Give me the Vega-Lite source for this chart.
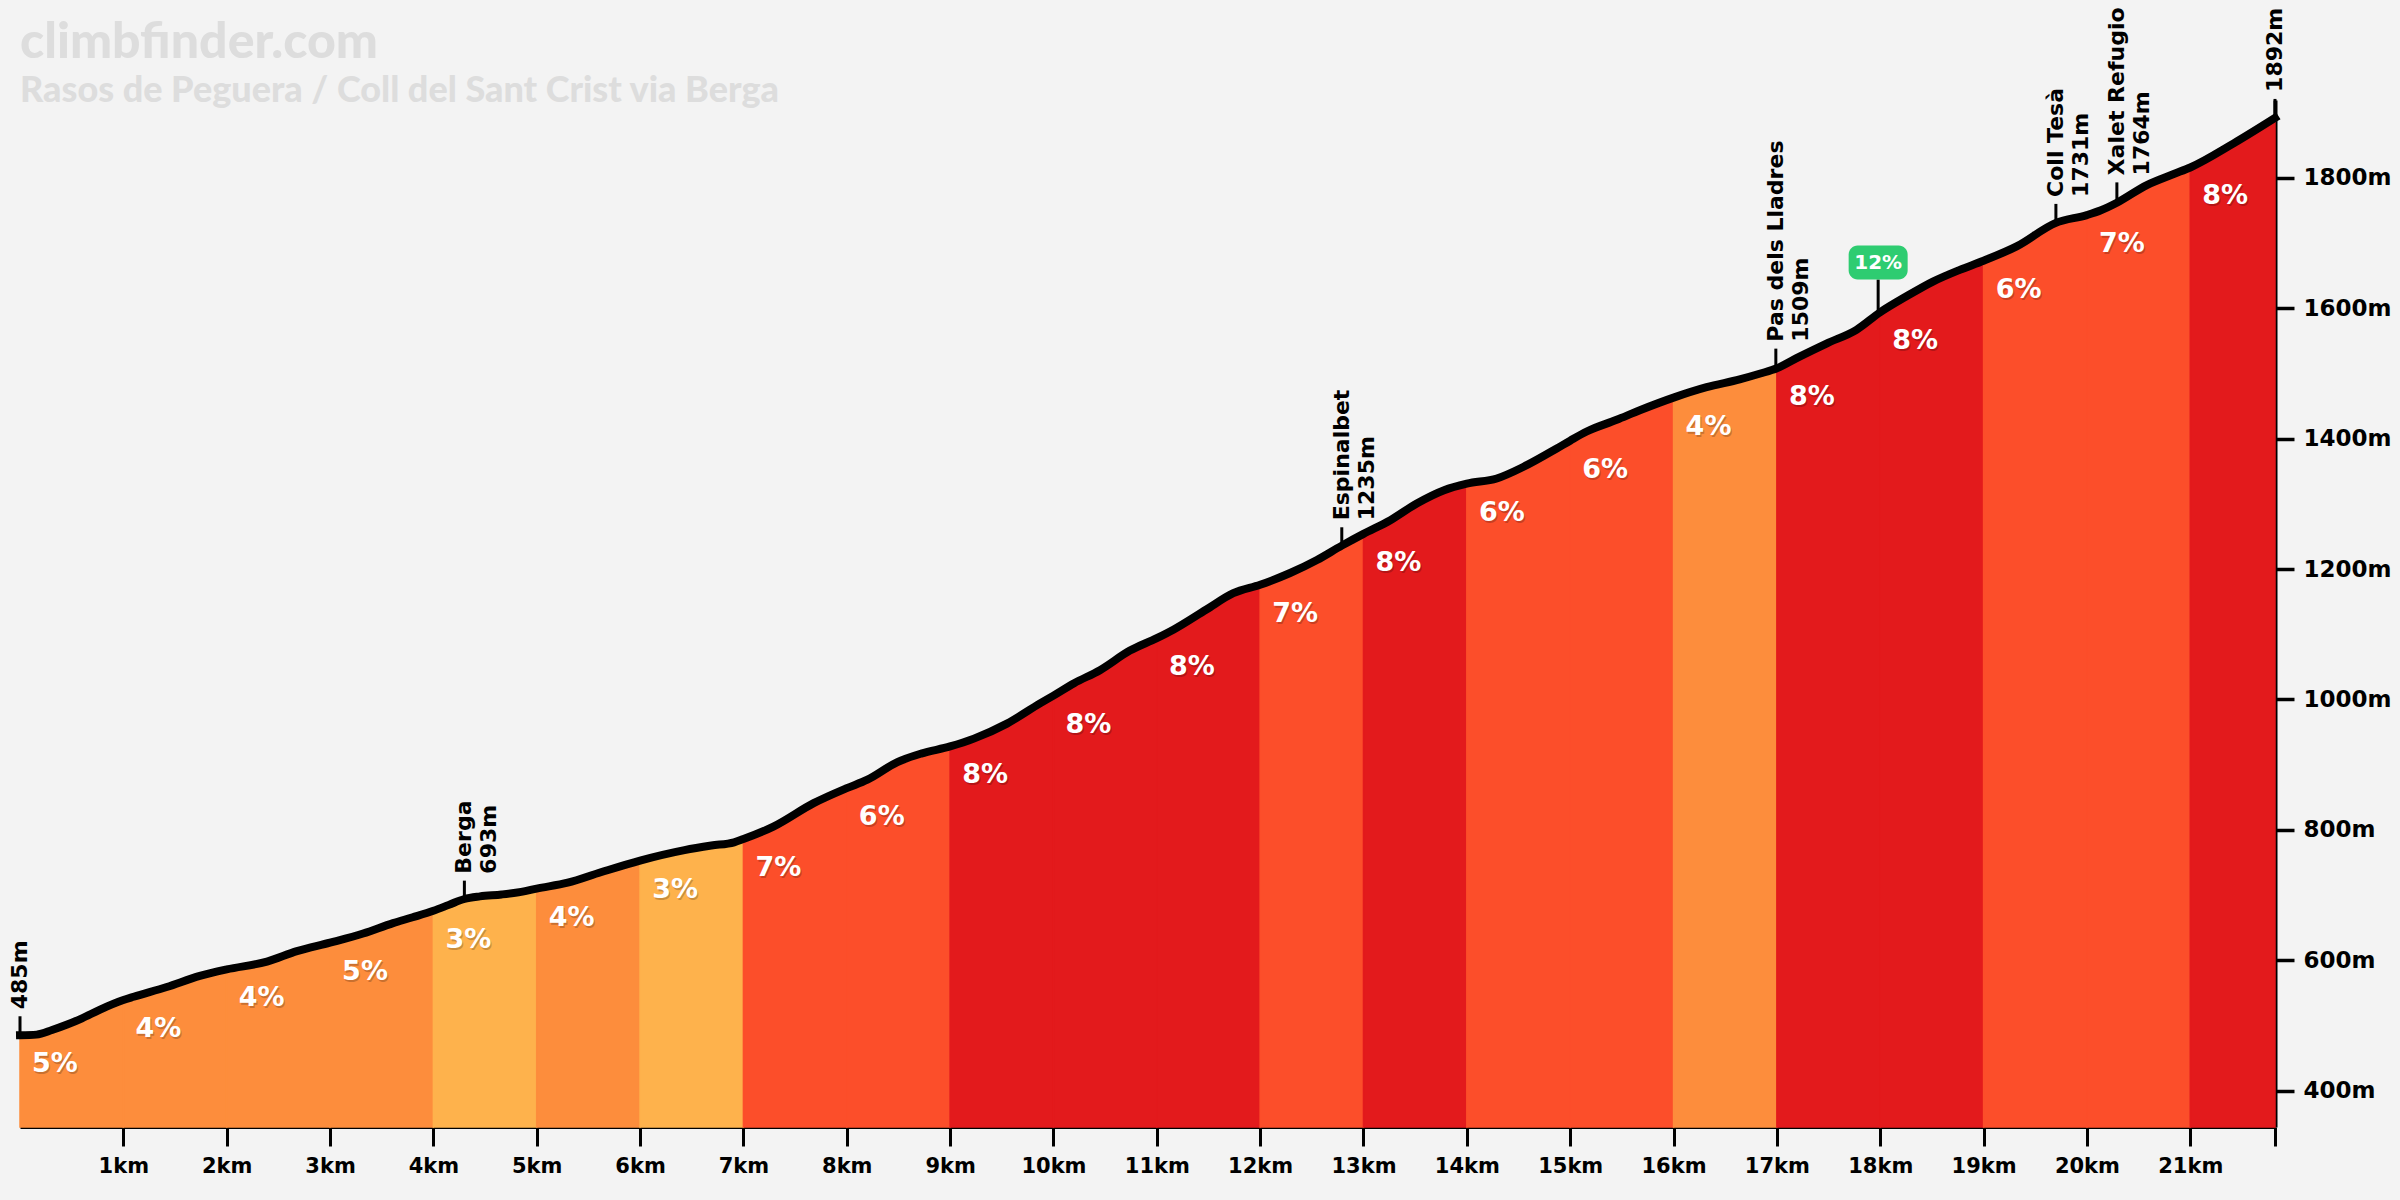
{
  "$schema": "https://vega.github.io/schema/vega-lite/v6.json",
  "autosize": "none",
  "width": 2255,
  "height": 1027,
  "padding": {"left": 20, "top": 100, "right": 125, "bottom": 73},
  "background": "#f3f3f3",
  "config": {
    "view": {"stroke": null},
    "axis": {"labelFont": "DejaVu Sans", "labelFontWeight": "bold", "labelColor": "#000", "grid": false, "title": null, "domainColor": "#000", "tickColor": "#000", "zindex": 1}
  },
  "title": {
    "text": "climbfinder.com",
    "subtitle": "Rasos de Peguera / Coll del Sant Crist via Berga",
    "anchor": "start",
    "frame": "group",
    "offset": 0,
    "dy": 102,
    "font": "Lato",
    "fontSize": 50,
    "fontWeight": 900,
    "color": "#dddddd",
    "subtitleFont": "Lato",
    "subtitleFontSize": 36,
    "subtitleFontWeight": 900,
    "subtitleColor": "#dddddd",
    "subtitlePadding": 6
  },
  "datasets": {
    "profile": [
      {"km": 0, "elev": 485, "segs": [0]},
      {"km": 0.16, "elev": 486, "segs": [0]},
      {"km": 0.31, "elev": 493, "segs": [0]},
      {"km": 0.45, "elev": 501, "segs": [0]},
      {"km": 0.6, "elev": 511, "segs": [0]},
      {"km": 0.77, "elev": 524, "segs": [0]},
      {"km": 1, "elev": 539, "segs": [0, 1]},
      {"km": 1.1, "elev": 544, "segs": [1]},
      {"km": 1.42, "elev": 559, "segs": [1]},
      {"km": 1.74, "elev": 576, "segs": [1]},
      {"km": 2, "elev": 586, "segs": [1, 2]},
      {"km": 2.39, "elev": 598, "segs": [2]},
      {"km": 2.68, "elev": 614, "segs": [2]},
      {"km": 3, "elev": 627, "segs": [2, 3]},
      {"km": 3.32, "elev": 641, "segs": [3]},
      {"km": 3.61, "elev": 657, "segs": [3]},
      {"km": 3.8, "elev": 666, "segs": [3]},
      {"km": 4, "elev": 676, "segs": [3, 4]},
      {"km": 4.15, "elev": 685, "segs": [4]},
      {"km": 4.3, "elev": 694, "segs": [4]},
      {"km": 4.45, "elev": 698, "segs": [4]},
      {"km": 4.66, "elev": 701, "segs": [4]},
      {"km": 4.85, "elev": 705, "segs": [4]},
      {"km": 5, "elev": 710, "segs": [4, 5]},
      {"km": 5.3, "elev": 719, "segs": [5]},
      {"km": 5.62, "elev": 735, "segs": [5]},
      {"km": 6, "elev": 753, "segs": [5, 6]},
      {"km": 6.43, "elev": 769, "segs": [6]},
      {"km": 6.69, "elev": 776, "segs": [6]},
      {"km": 6.91, "elev": 781, "segs": [6]},
      {"km": 7, "elev": 786, "segs": [6, 7]},
      {"km": 7.29, "elev": 805, "segs": [7]},
      {"km": 7.68, "elev": 841, "segs": [7]},
      {"km": 8, "elev": 864, "segs": [7, 8]},
      {"km": 8.2, "elev": 877, "segs": [8]},
      {"km": 8.49, "elev": 904, "segs": [8]},
      {"km": 8.72, "elev": 917, "segs": [8]},
      {"km": 9, "elev": 928, "segs": [8, 9]},
      {"km": 9.23, "elev": 940, "segs": [9]},
      {"km": 9.55, "elev": 963, "segs": [9]},
      {"km": 9.87, "elev": 994, "segs": [9]},
      {"km": 10, "elev": 1006, "segs": [9, 10]},
      {"km": 10.2, "elev": 1025, "segs": [10]},
      {"km": 10.45, "elev": 1045, "segs": [10]},
      {"km": 10.74, "elev": 1075, "segs": [10]},
      {"km": 11, "elev": 1094, "segs": [10, 11]},
      {"km": 11.16, "elev": 1107, "segs": [11]},
      {"km": 11.48, "elev": 1138, "segs": [11]},
      {"km": 11.74, "elev": 1163, "segs": [11]},
      {"km": 12, "elev": 1176, "segs": [11, 12]},
      {"km": 12.29, "elev": 1194, "segs": [12]},
      {"km": 12.55, "elev": 1214, "segs": [12]},
      {"km": 12.79, "elev": 1236, "segs": [12]},
      {"km": 13, "elev": 1254, "segs": [12, 13]},
      {"km": 13.26, "elev": 1275, "segs": [13]},
      {"km": 13.52, "elev": 1301, "segs": [13]},
      {"km": 13.78, "elev": 1321, "segs": [13]},
      {"km": 14, "elev": 1331, "segs": [13, 14]},
      {"km": 14.29, "elev": 1339, "segs": [14]},
      {"km": 14.55, "elev": 1357, "segs": [14]},
      {"km": 14.87, "elev": 1385, "segs": [14]},
      {"km": 15, "elev": 1397, "segs": [14, 15]},
      {"km": 15.16, "elev": 1411, "segs": [15]},
      {"km": 15.45, "elev": 1429, "segs": [15]},
      {"km": 15.68, "elev": 1444, "segs": [15]},
      {"km": 16, "elev": 1463, "segs": [15, 16]},
      {"km": 16.32, "elev": 1479, "segs": [16]},
      {"km": 16.64, "elev": 1491, "segs": [16]},
      {"km": 16.84, "elev": 1500, "segs": [16]},
      {"km": 17, "elev": 1508, "segs": [16, 17]},
      {"km": 17.22, "elev": 1526, "segs": [17]},
      {"km": 17.48, "elev": 1546, "segs": [17]},
      {"km": 17.77, "elev": 1567, "segs": [17]},
      {"km": 18, "elev": 1594, "segs": [17, 18]},
      {"km": 18.25, "elev": 1618, "segs": [18]},
      {"km": 18.51, "elev": 1641, "segs": [18]},
      {"km": 18.77, "elev": 1659, "segs": [18]},
      {"km": 19, "elev": 1673, "segs": [18, 19]},
      {"km": 19.32, "elev": 1695, "segs": [19]},
      {"km": 19.7, "elev": 1731, "segs": [19]},
      {"km": 20, "elev": 1743, "segs": [19, 20]},
      {"km": 20.13, "elev": 1750, "segs": [20]},
      {"km": 20.29, "elev": 1762, "segs": [20]},
      {"km": 20.58, "elev": 1789, "segs": [20]},
      {"km": 20.84, "elev": 1806, "segs": [20]},
      {"km": 21, "elev": 1816, "segs": [20, 21]},
      {"km": 21.42, "elev": 1853, "segs": [21]},
      {"km": 21.82, "elev": 1892, "segs": [21]}
    ],
    "segments": [
      {"km": 0, "grade": 5, "label": "5%"},
      {"km": 1, "grade": 4, "label": "4%"},
      {"km": 2, "grade": 4, "label": "4%"},
      {"km": 3, "grade": 5, "label": "5%"},
      {"km": 4, "grade": 3, "label": "3%"},
      {"km": 5, "grade": 4, "label": "4%"},
      {"km": 6, "grade": 3, "label": "3%"},
      {"km": 7, "grade": 7, "label": "7%"},
      {"km": 8, "grade": 6, "label": "6%"},
      {"km": 9, "grade": 8, "label": "8%"},
      {"km": 10, "grade": 8, "label": "8%"},
      {"km": 11, "grade": 8, "label": "8%"},
      {"km": 12, "grade": 7, "label": "7%"},
      {"km": 13, "grade": 8, "label": "8%"},
      {"km": 14, "grade": 6, "label": "6%"},
      {"km": 15, "grade": 6, "label": "6%"},
      {"km": 16, "grade": 4, "label": "4%"},
      {"km": 17, "grade": 8, "label": "8%"},
      {"km": 18, "grade": 8, "label": "8%"},
      {"km": 19, "grade": 6, "label": "6%"},
      {"km": 20, "grade": 7, "label": "7%"},
      {"km": 21, "grade": 8, "label": "8%"}
    ],
    "markers": [
      {"km": 0, "elev": 485, "line1": "485m", "line2": ""},
      {"km": 4.3, "elev": 693, "line1": "Berga", "line2": "693m"},
      {"km": 12.79, "elev": 1235, "line1": "Espinalbet", "line2": "1235m"},
      {"km": 16.99, "elev": 1509, "line1": "Pas dels Lladres", "line2": "1509m"},
      {"km": 19.7, "elev": 1731, "line1": "Coll Tesà", "line2": "1731m"},
      {"km": 20.29, "elev": 1764, "line1": "Xalet Refugio", "line2": "1764m"},
      {"km": 21.82, "elev": 1892, "line1": "1892m", "line2": ""}
    ],
    "badge": [
      {"km": 17.98, "elev": 1592, "text": "12%"}
    ]
  },
  "encoding": {
    "x": {
      "field": "km", "type": "quantitative",
      "scale": {"domain": [0, 21.82], "nice": false, "zero": false},
      "axis": {
        "orient": "bottom", "title": null,
        "values": [1, 2, 3, 4, 5, 6, 7, 8, 9, 10, 11, 12, 13, 14, 15, 16, 17, 18, 19, 20, 21, 21.82],
        "labelExpr": "datum.value > 21.5 ? '' : datum.value + 'km'",
        "tickSize": 19, "tickWidth": 3, "domainWidth": 3,
        "labelFontSize": 21, "labelPadding": 9, "labelFlush": false, "labelOverlap": false
      }
    },
    "y": {
      "field": "elev", "type": "quantitative",
      "scale": {"domain": [344.3, 1919.5], "nice": false, "zero": false},
      "axis": {
        "orient": "right", "title": null,
        "values": [400, 600, 800, 1000, 1200, 1400, 1600, 1800],
        "labelExpr": "datum.value + 'm'",
        "tickSize": 19, "tickWidth": 3.5, "domainWidth": 4,
        "labelFontSize": 23, "labelPadding": 9, "labelFlush": false
      }
    }
  },
  "layer": [
    {
      "data": {"name": "profile"},
      "transform": [
        {"flatten": ["segs"], "as": ["seg"]},
        {"lookup": "seg", "from": {"data": {"name": "segments"}, "key": "km", "fields": ["grade"]}}
      ],
      "mark": {"type": "area", "interpolate": "monotone", "strokeWidth": 1.5},
      "encoding": {
        "y": {"field": "elev", "type": "quantitative", "stack": null},
        "color": {
          "field": "grade", "type": "ordinal",
          "scale": {"domain": [3, 4, 5, 6, 7, 8], "range": ["#feb24c", "#fd8d3c", "#fd8d3c", "#fc4e2a", "#fc4e2a", "#e31a1c"]},
          "legend": null
        },
        "stroke": {
          "field": "grade", "type": "ordinal",
          "scale": {"domain": [3, 4, 5, 6, 7, 8], "range": ["#feb24c", "#fd8d3c", "#fd8d3c", "#fc4e2a", "#fc4e2a", "#e31a1c"]},
          "legend": null
        },
        "detail": {"field": "seg"}
      }
    },
    {
      "data": {"name": "profile"},
      "mark": {"type": "line", "interpolate": "monotone", "color": "#000", "strokeWidth": 8, "strokeCap": "square"},
      "encoding": {}
    },
    {
      "data": {"name": "segments"},
      "transform": [
        {"lookup": "km", "from": {"data": {"name": "profile"}, "key": "km", "fields": ["elev"]}}
      ],
      "mark": {"type": "text", "align": "center", "baseline": "middle", "dx": 36, "dy": 31, "font": "DejaVu Sans", "fontWeight": "bold", "fontSize": 27, "color": "#000", "opacity": 0.2},
      "encoding": {"text": {"field": "label"}}
    },
    {
      "data": {"name": "segments"},
      "transform": [
        {"lookup": "km", "from": {"data": {"name": "profile"}, "key": "km", "fields": ["elev"]}}
      ],
      "mark": {"type": "text", "align": "center", "baseline": "middle", "dx": 35, "dy": 29, "font": "DejaVu Sans", "fontWeight": "bold", "fontSize": 27, "color": "#ffffff"},
      "encoding": {"text": {"field": "label"}}
    },
    {
      "data": {"name": "markers"},
      "mark": {"type": "rule", "color": "#000", "strokeWidth": 3, "y2Offset": -19},
      "encoding": {"y2": {"field": "elev"}}
    },
    {
      "data": {"name": "markers"},
      "mark": {"type": "text", "angle": 270, "align": "left", "baseline": "middle", "dx": 26, "dy": 0, "font": "DejaVu Sans", "fontWeight": "bold", "fontSize": 22, "color": "#000"},
      "encoding": {"text": {"field": "line1"}}
    },
    {
      "data": {"name": "markers"},
      "mark": {"type": "text", "angle": 270, "align": "left", "baseline": "middle", "dx": 26, "dy": 25, "font": "DejaVu Sans", "fontWeight": "bold", "fontSize": 22, "color": "#000"},
      "encoding": {"text": {"field": "line2"}}
    },
    {
      "data": {"name": "badge"},
      "mark": {"type": "rule", "color": "#000", "strokeWidth": 3, "y2Offset": -34},
      "encoding": {"y2": {"field": "elev"}}
    },
    {
      "data": {"name": "badge"},
      "mark": {"type": "rect", "color": "#2ecc71", "cornerRadius": 9, "xOffset": -29.5, "x2Offset": 29.5, "yOffset": -68, "y2Offset": -34},
      "encoding": {"x2": {"field": "km"}, "y2": {"field": "elev"}}
    },
    {
      "data": {"name": "badge"},
      "mark": {"type": "text", "align": "center", "baseline": "middle", "dy": -51, "font": "DejaVu Sans", "fontWeight": "bold", "fontSize": 20, "color": "#ffffff"},
      "encoding": {"text": {"field": "text"}}
    }
  ]
}
